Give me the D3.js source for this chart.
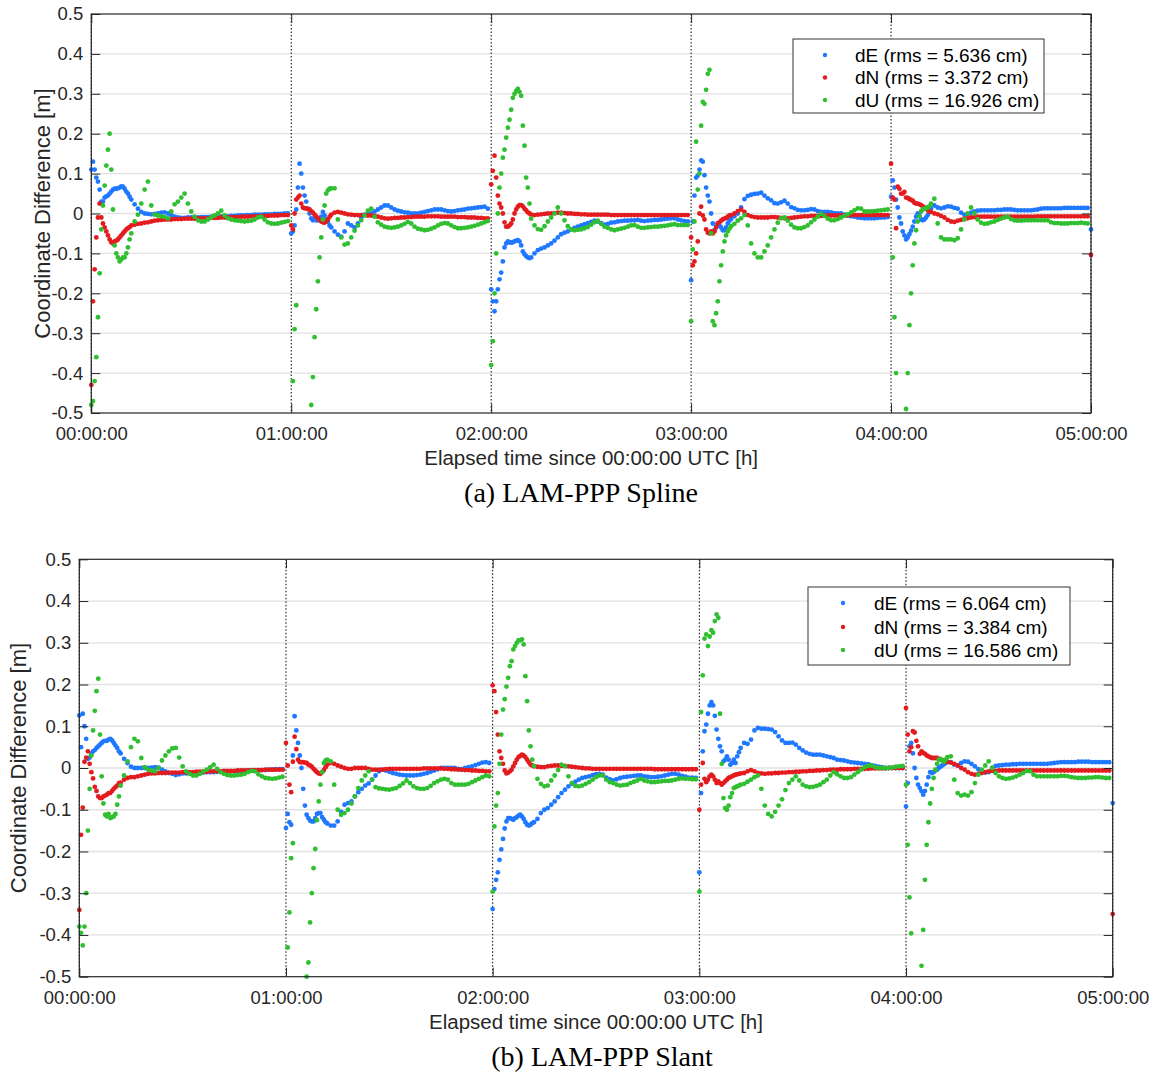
<!DOCTYPE html>
<html>
<head>
<meta charset="utf-8">
<script src="https://cdn.jsdelivr.net/npm/d3@7"></script>
<style>
	body {margin:0; background:#fff}
	text {font-family:"Liberation Sans", Arial, sans-serif}
</style>
</head>
<body>
<svg id="chart" width="1158" height="1076"></svg>
<script>
// Axis labels
var hourLabels = ['00:00:00', '01:00:00', '02:00:00', '03:00:00', '04:00:00', '05:00:00']
var yTicks = [-0.5, -0.4, -0.3, -0.2, -0.1, 0, 0.1, 0.2, 0.3, 0.4, 0.5]
var seriesNames = ['dE', 'dN', 'dU']
var seriesColors = ['#1f78ff', '#e31b1f', '#30bf30']

// rms per component [cm]
var splineRms = [5.636, 3.372, 16.926]
var slantRms = [6.064, 3.384, 16.586]

// Coordinate differences [cm], one row per hour.
// head = first 12 min of the hour every 30 s, tail = min 12..59 every 1 min
var splineE_head = [
	[11,13,11,9,8,6,3,3,4,4.3,4.5,5,5.5,6,6.2,6.2,6.3,6.5,6.8,6.7,6.2,5.5,5,4.2],
	[-5,-4.5,-3,1,6.5,12.5,10,6.5,4.5,3,1.2,0,-1.2,-1.7,-1.3,-1.7,-1.7,-1.5,-0.8,0.4,-0.5,-1.5,-2,-3],
	[-19,-22,-24.5,-22,-19,-16.5,-14.8,-12,-8.5,-7.5,-7,-7.2,-7.3,-7.2,-7,-6.8,-6.7,-7,-8,-9.5,-10.2,-10.7,-11,-11.2],
	[-16.7,-2,4.5,9,9.5,11,13.3,13,9.6,6.5,4.5,3,0,-2.5,-4.2,-3.3,-2.5,-3,-3.5,-4.2,-4.2,-3.5,-2.5,-1.8],
	[4.2,8.3,6.5,3.5,1.5,-1,-2.5,-4.5,-5.5,-6.5,-6,-5.2,-4.3,-3.3,-2,-0.8,0,-0.5,-1.5,-1.7,-1.5,-1,-0.4,0.3]
]
var splineE_tail = [
	[3.5,2.3,1.2,0.4,0,-0.1,-0.2,-0.1,0,0.2,0.3,0,-0.4,-0.8,-1,-1.1,-1.1,-1,-1,-1,-1,-0.9,-0.9,-0.9,-0.8,-0.8,-0.8,-0.7,-0.7,-0.7,-0.6,-0.6,-0.5,-0.5,-0.5,-0.4,-0.4,-0.3,-0.3,-0.3,-0.2,-0.2,-0.2,-0.1,-0.1,-0.1,0,0],
	[-3.5,-4.5,-5.3,-5.8,-4.5,-2.5,-3,-3.5,-2.5,-1,-0.3,0,0,0.5,1,1.5,2,2,1.5,1,0.7,0.5,0.3,0.2,0,0,0,0.2,0.4,0.6,0.8,1,1,1,0.8,0.6,0.5,0.6,0.8,0.9,1,1.2,1.3,1.4,1.5,1.6,1.7,1.2],
	[-11,-10,-9.2,-8.8,-8.5,-8,-7.5,-6.8,-6,-5.2,-4.8,-4.5,-4,-3.6,-3.3,-3,-2.7,-2.4,-2.1,-1.8,-2,-2.4,-2.8,-2.6,-2.3,-2.2,-2,-1.9,-1.8,-1.8,-1.7,-1.7,-1.6,-1.8,-1.9,-1.8,-1.7,-1.6,-1.6,-1.5,-1.4,-1.3,-1.2,-1.2,-1.5,-1.7,-1.9,-2],
	[-1.4,-0.7,0,1.5,3.6,4.4,4.7,4.9,5,5.2,4.5,3.8,3.3,2.6,2.5,2.8,3.2,2.5,1.6,1.3,0.9,0.8,0.8,0.9,1.1,1,0.6,0.4,0.4,0.4,0.3,0.1,0,0,-0.3,-0.5,-0.7,-0.8,-1,-1.1,-1.2,-1.2,-1.2,-1.2,-1.1,-1,-1,-0.9],
	[1.2,2,1.5,1.3,1.5,1.8,1.7,1.4,1.2,0.2,-0.3,-0.2,0.2,0.5,0.7,0.8,0.8,0.8,0.8,0.8,0.9,0.9,1,1,1,0.9,0.8,0.8,0.8,0.8,0.8,0.9,1,1.2,1.3,1.3,1.3,1.3,1.3,1.3,1.4,1.4,1.4,1.4,1.4,1.4,1.4,1.4]
]
var splineN_head = [
	[-43,-22,-14,-6,-1,2.5,-1,-2.5,-3.5,-4.5,-5.5,-6.5,-7.2,-7.5,-7,-6.8,-6.5,-6,-5.5,-5,-4.5,-4,-3.7,-3.4],
	[-3,-4,0,3.5,4,4.5,2.5,1.5,1.3,1.3,1.1,1,0.6,0.2,-0.3,-0.7,-1.2,-1.6,-2,-2.2,-2.3,-2,-1.5,-0.8],
	[7.3,10.7,14.5,9,4.5,2.5,1.5,0,-2.2,-3.3,-3.3,-3,-2.5,-1.5,0,1,1.7,2.1,2.1,1.8,1.2,0.8,0.3,0],
	[-6,-13,-12,-10,-7,0,1.7,-0.5,-1.5,-4,-4.8,-5,-4.5,-5,-4.5,-3.5,-2.5,-2.2,-1.8,-1.5,-1.3,-1.1,-0.8,-0.5],
	[12.5,4,3.5,-3.7,6.7,6.2,5,5,5.4,4,3.9,3.6,3.4,3.2,2.7,2.5,2.5,2.3,2.1,1.8,1.5,1.2,0.8,0.5]
]
var splineN_tail = [
	[-3,-2.8,-2.6,-2.5,-2.3,-2.2,-2,-1.8,-1.7,-1.6,-1.5,-1.5,-1.5,-1.4,-1.4,-1.4,-1.3,-1.3,-1.3,-1.3,-1.2,-1.2,-1.2,-1.2,-1.1,-1.1,-1.1,-1,-1,-1,-0.9,-0.9,-0.9,-0.8,-0.8,-0.8,-0.7,-0.7,-0.7,-0.6,-0.6,-0.6,-0.5,-0.5,-0.5,-0.4,-0.4,-0.4],
	[-0.3,0.2,0.4,0.2,0,-0.2,-0.3,-0.4,-0.4,-0.4,-0.4,-0.5,-0.5,-0.6,-0.8,-1,-1.2,-1.3,-1.2,-1.1,-1.1,-1,-1,-0.9,-0.9,-0.8,-0.8,-0.8,-0.8,-0.7,-0.7,-0.7,-0.7,-0.8,-0.8,-0.8,-0.8,-0.8,-0.9,-0.9,-0.9,-1,-1,-1,-1.1,-1.1,-1.2,-1.2],
	[-0.3,-0.4,-0.3,-0.2,-0.1,0,0,0.1,0.2,0.2,0.1,0,0,-0.1,-0.1,-0.2,-0.2,-0.3,-0.3,-0.3,-0.3,-0.3,-0.3,-0.3,-0.4,-0.4,-0.4,-0.4,-0.4,-0.4,-0.4,-0.4,-0.4,-0.4,-0.4,-0.4,-0.4,-0.4,-0.4,-0.4,-0.4,-0.4,-0.4,-0.4,-0.4,-0.4,-0.4,-0.4],
	[-0.4,0,0.6,1,0.4,-0.4,-0.7,-0.9,-1,-1,-1,-1,-0.9,-0.9,-1,-1.1,-1.2,-1.2,-1.1,-1,-0.9,-0.8,-0.7,-0.7,-0.6,-0.6,-0.6,-0.6,-0.5,-0.5,-0.5,-0.5,-0.5,-0.5,-0.5,-0.5,-0.4,-0.4,-0.4,-0.4,-0.4,-0.4,-0.4,-0.4,-0.4,-0.4,-0.4,-0.4],
	[0.4,0,-0.2,-0.6,-1,-1.6,-2,-2.1,-1.8,-1.6,-1.3,-1.2,-1,-0.9,-0.8,-0.8,-0.8,-0.8,-0.8,-0.8,-0.8,-0.8,-0.8,-0.8,-0.8,-0.8,-0.8,-0.8,-0.8,-0.8,-0.8,-0.8,-0.7,-0.7,-0.7,-0.7,-0.7,-0.7,-0.7,-0.7,-0.7,-0.7,-0.7,-0.7,-0.7,-0.7,-0.7,-0.7]
]
var splineU_head = [
	[-48,-47,-42,-36,-26,-15,-4,2,7,12,16,20,11,1,-8,-10,-11,-12,-11.5,-11,-11,-10,-8.5,-6.5],
	[-55,-42,-29,-23,-55,-65,-70,-70,-65,-60,-55,-52,-48,-41,-31,-24,-17,-11,-6,-1.5,2,5,5.8,6.2],
	[-38,-32,-20,-10,0,6.5,10,14,16,19,21.5,23.5,26,29,30,30.7,31.2,30.5,29.5,22,17,9,6.5,2.5],
	[-27,-9,-2,18,6,10,22,28,27.5,31,35,36,-5,-27,-28,-25,-22,-17,-13,-9.5,-7,-5.5,-4.5,-3.8],
	[-60,-11,-26,-40,-62,-75,-78,-72,-62,-49,-40,-28,-20,-13,-7.5,-4.2,-2,-0.7,0.5,1,1.2,1.3,1.5,1.8]
]
var splineU_tail = [
	[-5,-2,-0.3,2.5,6,8,2,-0.3,-0.5,-0.7,-0.9,-1.2,0.5,2.3,3,4,5,2.5,0.5,-0.8,-1.7,-2,-2,-1.5,-1,-0.5,0,0.7,-0.5,-1.2,-1.5,-1.7,-1.8,-1.9,-2,-1.9,-1.8,-1.5,-1,-0.8,-1.5,-2.2,-2.5,-2.6,-2.5,-2.3,-2.1,-1.9],
	[6.3,6.3,-1.5,-6,-7.8,-7.5,-6,-4.3,-3,-1.7,-0.5,0.7,1.2,-0.8,-2.2,-2.8,-3.3,-3.5,-3.6,-3.5,-3.3,-3,-2.6,-2.1,-2.5,-3.3,-3.8,-4,-4.2,-4.1,-3.8,-3.5,-3,-2.6,-2.4,-2.5,-3,-3.4,-3.7,-3.7,-3.6,-3.5,-3.3,-3.1,-2.8,-2.5,-2.2,-1.9],
	[-1.3,-3,-3.9,-4.1,-3.2,-2,-1,0,1.5,0,-1.7,-3.2,-4,-4.2,-4.1,-4,-3.7,-3.4,-2.8,-2.2,-1.8,-2.6,-3.3,-3.6,-4,-4.2,-4,-3.8,-3.6,-3.3,-3,-2.9,-3.3,-3.6,-3.6,-3.5,-3.4,-3.3,-3.3,-3.2,-3.1,-3,-2.8,-2.7,-2.9,-2.9,-2.9,-2.9],
	[-3.2,-2.6,-1.8,-1.2,-0.4,-3,-7.5,-10,-11,-11,-9.5,-8,-6,-4,-2.3,-1.2,-1,-1.8,-2.8,-3.5,-3.7,-3.7,-3.4,-3,-2.2,-1.5,-0.8,-0.1,-0.6,-1.3,-1.7,-1.7,-1.4,-1,-0.6,-0.2,0.3,0.8,1.3,1.2,0.5,0.5,0.5,0.6,0.7,0.8,0.9,1],
	[2.5,3.7,-2.5,-6,-6.5,-6.5,-6.5,-6.7,-6.2,-4,-1.5,0,1.5,0,-1.5,-2.3,-2.6,-2.5,-2.2,-2,-1.6,-1.3,-1,-0.8,-1.4,-1.7,-1.8,-1.8,-1.7,-1.7,-1.7,-1.7,-1.7,-1.7,-1.7,-1.7,-2.2,-2.4,-2.4,-2.5,-2.5,-2.5,-2.4,-2.4,-2.4,-2.3,-2.4,-2.5]
]
// first epoch after the 05:00:00 reset (dE, dN)
var splineEnd = [-4, -10.4]

var slantE_head = [
	[12.6,5,13,10,7,2.2,2.5,3.4,4,4.3,4.8,5.2,5.6,6,6.4,6.5,6.5,6.8,7,6.6,6,5.4,4.8,4],
	[-14.4,-11,-13,-13.6,3,12.4,9,6,3,0,-5,-9,-11.2,-12,-12.6,-12.8,-12.8,-12,-11,-10.8,-10.8,-11.8,-12.4,-13],
	[-33.8,-29,-26.8,-25,-22,-19.5,-17,-14.5,-12.8,-12,-12,-12.2,-12.4,-12,-11.8,-11.4,-11.2,-11.6,-12.2,-13,-13.6,-13.8,-13.6,-13.2],
	[-25,-6,4,8.8,10.4,13,15,15.8,15,12.5,9.2,7,5.2,4,1.6,2,2.8,2,0.8,1.2,2,1.2,2.8,3.8],
	[-9.2,-3.6,5.2,6,3.5,0,-2.4,-4,-4.8,-5.6,-6.4,-5.5,-4,-2.2,-1,-1.2,-1,-0.6,-0.4,0,0.3,0.6,0.9,1.2]
]
var slantE_tail = [
	[3.5,2.2,1.2,0.3,0,0,0,0,0,0.1,0.2,0.1,-0.4,-0.8,-1.2,-1.4,-1.7,-1.5,-1.3,-1.3,-1.2,-1.2,-1.2,-1.1,-1.1,-1,-1,-1,-0.9,-0.9,-0.9,-0.8,-0.8,-0.8,-0.7,-0.7,-0.7,-0.6,-0.6,-0.6,-0.5,-0.5,-0.5,-0.4,-0.4,-0.3,-0.3,-0.3],
	[-13.3,-13.8,-13.8,-12.8,-10.5,-8.8,-8.4,-8,-6.8,-5.8,-5,-4.2,-3.7,-2.8,-1.8,-0.8,-0.4,-0.6,-0.9,-1.2,-1.4,-1.6,-1.7,-1.8,-1.8,-1.8,-1.7,-1.6,-1.4,-1.2,-0.9,-0.6,-0.3,0,0,0,0,0,-0.2,-0.3,0,0.2,0.4,0.7,1,1.3,1.4,1.2],
	[-13,-12.2,-10.8,-10,-9.6,-8.8,-8,-7,-6,-5.2,-4.4,-3.8,-3.3,-2.8,-2.4,-2.2,-2,-1.7,-1.5,-1.4,-1.6,-2.3,-2.7,-3,-2.7,-2.4,-2.2,-2.1,-2,-1.9,-1.8,-1.8,-2,-2.1,-2.2,-2.2,-2.1,-2,-1.8,-1.6,-1.4,-1.4,-1.6,-1.9,-2.1,-2.3,-2.3,-2.4],
	[4.8,6,5.8,6.8,9,9.6,9.4,9.4,9.3,9.2,8.6,7.6,6.6,6,6,6.1,5.6,4.8,4.2,3.7,3.4,3.2,3.2,3.2,3,2.8,2.6,2.4,2,1.9,1.8,1.6,1.4,1.3,1.2,1.1,1,0.9,0.7,0.5,0.3,0.2,0,0,0,0,0,0],
	[1.4,1.4,0.8,0.6,1.2,1.6,1.5,1,0.4,-0.3,-0.9,-1.1,-1,0,0.5,0.6,0.7,0.8,0.8,0.9,0.9,1,1,1,1,1,1,1,1,1,1.1,1.2,1.3,1.4,1.4,1.4,1.4,1.4,1.5,1.5,1.5,1.5,1.4,1.4,1.4,1.4,1.4,1.4]
]
var slantN_head = [
	[-34,-16,-9.5,1.5,2.5,4,1,-1,-2.5,-4.5,-5.5,-6.8,-7.2,-7.2,-6.8,-6.6,-6.4,-6,-6,-5.5,-5,-4.6,-4.2,-3.6],
	[6,0.6,-4,-5.8,1.5,7.5,4.5,2,1.4,1.4,1.4,1.3,1.2,0.8,0.6,0.3,-0.2,-0.6,-1,-1.3,-1.4,-1,-0.5,0.2],
	[19.8,18.4,13.4,8,4,2.4,1,-0.6,-1.3,-1.1,-0.8,-0.4,0.4,1.2,2,2.6,2.9,3.2,3,2.6,2,1.4,0.8,0.6],
	[-10,-4,1.2,-2.6,-3.4,-2.8,-2,-1.6,-2,-2.8,-3.6,-3.2,-3.6,-4,-3.6,-3.2,-2.8,-2.4,-2.2,-2,-1.8,-1.6,-1.5,-1.4],
	[14.4,8,4,5,8.8,8.5,6.5,5.2,3.4,4,3.6,3.4,3,2.8,2.6,2.4,2.4,2.4,2.4,2.2,2,1.9,1.8,1.6]
]
var slantN_tail = [
	[-3.5,-2.8,-2.4,-2.2,-2.2,-2,-1.8,-1.6,-1.4,-1.3,-1.3,-1.2,-1.2,-1.2,-1.1,-1.1,-1.1,-1.1,-1,-1,-1,-1,-0.9,-0.9,-0.9,-0.9,-0.8,-0.8,-0.8,-0.8,-0.7,-0.7,-0.7,-0.7,-0.6,-0.6,-0.6,-0.6,-0.5,-0.5,-0.5,-0.5,-0.4,-0.4,-0.4,-0.4,-0.4,-0.4],
	[0.8,1.2,1,0.6,0.3,0,-0.2,-0.2,0,0,0,0,-0.2,-0.4,-0.4,-0.4,-0.4,-0.3,-0.2,-0.2,-0.2,-0.2,-0.2,-0.2,-0.2,-0.2,-0.2,-0.2,-0.1,-0.1,-0.1,-0.1,-0.1,-0.1,-0.2,-0.2,-0.3,-0.3,-0.4,-0.4,-0.5,-0.5,-0.6,-0.6,-0.7,-0.7,-0.8,-0.8],
	[0.4,0.3,0.2,0.2,0.4,0.5,0.6,0.6,0.5,0.5,0.4,0.3,0.2,0.1,0,-0.1,-0.1,-0.2,-0.2,-0.2,-0.2,-0.2,-0.2,-0.2,-0.2,-0.2,-0.2,-0.2,-0.2,-0.2,-0.2,-0.2,-0.2,-0.2,-0.2,-0.3,-0.3,-0.3,-0.3,-0.3,-0.3,-0.3,-0.3,-0.3,-0.3,-0.3,-0.3,-0.3],
	[-1.3,-1.2,-0.8,-0.5,-0.8,-1.2,-1.3,-1.4,-1.3,-1.3,-1.2,-1.2,-1.1,-1.1,-1,-1,-0.9,-0.9,-0.8,-0.8,-0.7,-0.7,-0.6,-0.6,-0.5,-0.5,-0.4,-0.4,-0.4,-0.3,-0.3,-0.3,-0.3,-0.2,-0.2,-0.2,-0.2,-0.2,-0.1,-0.1,-0.1,-0.1,-0.1,0,0,0,0,0],
	[1.5,1.3,1,0.6,0,-0.4,-1,-1.4,-1.6,-1.4,-1.2,-1,-0.8,-0.7,-0.7,-0.6,-0.6,-0.6,-0.6,-0.6,-0.6,-0.6,-0.6,-0.6,-0.6,-0.6,-0.6,-0.6,-0.6,-0.6,-0.6,-0.6,-0.6,-0.6,-0.6,-0.6,-0.6,-0.6,-0.6,-0.6,-0.6,-0.6,-0.6,-0.6,-0.6,-0.6,-0.6,-0.6]
]
var slantU_head = [
	[-38,-39.5,-42.5,-38,-30,-15,-5,3,9,13.7,18.4,21.4,8,-2,-8.5,-11.2,-11.6,-11,-12,-11.8,-11.6,-11,-8.8,-6.8],
	[-60,-43,-34.6,-21.6,-18,-60,-70,-72,-70,-65,-60,-55,-50,-46.6,-37,-30,-24,-19.4,-12.5,-8,-4,-1,1.2,1.8],
	[-29.6,-14,-9,-6,1,8,14,16.5,19.5,21.6,24.4,25.6,28.4,29.2,30,30.6,30.6,30.8,29.6,22,16,9,5.2,2],
	[-29.6,13.4,22.2,31,32,29.2,31.5,33,32.4,35.2,36.8,36,13,1,-7.2,-9.6,-10,-9,-7,-6,-4.8,-4.6,-4.4,-4.2],
	[-4,-18.4,-31,-39.6,-60,-75,-75,-70,-62,-47.4,-38.8,-26.8,-18.4,-13,-8.5,-5,-2.4,-0.4,1,2,2.2,1.8,1.5,2]
]
var slantU_tail = [
	[-4.2,-1.8,1.6,5,7,6.4,2.4,0.2,-0.4,-0.6,-0.8,0,1.8,3,4,4.7,4.8,2.5,0.4,-0.8,-1.4,-1.8,-1.8,-1.4,-0.8,-0.4,0.2,0.8,-0.2,-1,-1.4,-1.7,-1.8,-1.8,-1.7,-1.6,-1.4,-1,-0.7,-0.8,-1.5,-2,-2.4,-2.5,-2.6,-2.5,-2.3,-2.1],
	[2,1.6,-4,-10,-11.2,-10.8,-10,-8.5,-6.8,-4.8,-3,-1.8,-0.8,-2.8,-4.6,-4.9,-5,-5.1,-5.2,-5,-4.8,-4.3,-3.7,-3,-3.6,-4.4,-4.8,-5,-5,-4.8,-4.3,-3.6,-3.2,-2.8,-2.6,-2.8,-3.6,-4,-4,-4,-4,-3.8,-3.4,-3,-2.6,-2.2,-1.8,-2],
	[0.5,-2.6,-3.8,-4.4,-4.2,-3,-1.8,-0.5,0.8,0.4,-2,-3.6,-4.3,-4.4,-4.2,-3.8,-3.4,-2.8,-2.2,-1.8,-1.8,-2.8,-3.4,-3.6,-4,-4.2,-4.1,-4,-3.6,-3.3,-3,-2.6,-3,-3.2,-3.4,-3.4,-3.3,-3.2,-3.1,-3.1,-3,-2.8,-2.6,-2.5,-2.6,-2.6,-2.7,-2.7],
	[-4,-3.8,-3.3,-2.8,-2.2,-1.8,-5,-9,-11,-11.6,-10.5,-9,-7.5,-5.3,-3.6,-2.8,-2,-3,-4,-4.4,-4.6,-4.5,-4.3,-4,-3.4,-2.8,-1.8,-1,-1.5,-2,-2.4,-2.4,-2.2,-1.6,-1,-0.4,0.2,0.5,0.6,0.2,0,0,0,0,0.1,0.3,0.4,0.5],
	[2.6,2.8,-2.8,-6,-6.6,-6.4,-6.6,-5.8,-3.6,-1.6,-0.4,0.6,1.6,0,-1.2,-2,-2.4,-2.6,-2.5,-2.3,-2,-1.6,-1.2,-0.7,-0.8,-1.6,-2,-2,-2,-2,-2,-2,-2,-1.9,-1.9,-2,-2.2,-2.3,-2.4,-2.4,-2.4,-2.3,-2.3,-2.2,-2.2,-2.3,-2.4,-2.4]
]
var slantEnd = [-8.4, -35]

// Panel layout
var panels = [
	{caption:'(a) LAM-PPP Spline', rms:splineRms, end:splineEnd,
	 head:[splineE_head, splineN_head, splineU_head], tail:[splineE_tail, splineN_tail, splineU_tail],
	 left:91.3, right:1091, top:14, bottom:413, ylabX:42, xlabY:465, capX:581, capY:502,
	 legend:{x:793, y:39, w:251, h:74, dotX:825, textX:855, rows:[55, 77.5, 100]}},
	{caption:'(b) LAM-PPP Slant', rms:slantRms, end:slantEnd,
	 head:[slantE_head, slantN_head, slantU_head], tail:[slantE_tail, slantN_tail, slantU_tail],
	 left:79.3, right:1112.7, top:559.3, bottom:976.7, ylabX:18, xlabY:1029, capX:602, capY:1066,
	 legend:{x:808, y:587, w:262, h:78, dotX:843, textX:874, rows:[603, 627, 650]}}
]

// Turn head/tail rows into [minutes, metres] points
var buildPoints = function(head, tail, endVal) {
	var pts = []
	for(var h=0; h<head.length; h++) {
		head[h].forEach(function(v, i) { pts.push({t:h*60 + i*0.5, v:v/100}) })
		tail[h].forEach(function(v, j) { pts.push({t:h*60 + 12 + j, v:v/100}) })
	}
	if(endVal != undefined) pts.push({t:300, v:endVal/100})
	return pts
}

var fmtY = function(v) { return v == 0 ? '0' : String(v) }
var ink = '#262626'

var drawPanel = function(svg, p) {
	var x = d3.scaleLinear().domain([0, 300]).range([p.left, p.right])
	var y = d3.scaleLinear().domain([-0.5, 0.5]).range([p.bottom, p.top])
	var hours = d3.range(0, 301, 60)
	var g = svg.append('g')

	// grid
	g.append('g').selectAll('line').data(yTicks.slice(1, -1)).join('line')
		.attr('x1', p.left).attr('x2', p.right)
		.attr('y1', function(d) { return y(d) }).attr('y2', function(d) { return y(d) })
		.attr('stroke', '#e2e2e2').attr('stroke-width', 1.3)

	// hour separators
	g.append('g').selectAll('line').data(hours).join('line')
		.attr('x1', function(d) { return x(d) }).attr('x2', function(d) { return x(d) })
		.attr('y1', p.top).attr('y2', p.bottom)
		.attr('stroke', '#000').attr('stroke-width', 1).attr('stroke-dasharray', '1.5,2')

	// series
	seriesNames.map(function(name, k) {
		var pts = buildPoints(p.head[k], p.tail[k], p.end[k]).filter(function(d) { return d.v >= -0.5 && d.v <= 0.5 })
		g.append('g').attr('class', 'series-' + name).selectAll('circle').data(pts).join('circle')
			.attr('cx', function(d) { return x(d.t) })
			.attr('cy', function(d) { return y(d.v) })
			.attr('r', 2.4)
			.attr('fill', seriesColors[k])
	})

	// axes
	g.append('g').attr('transform', 'translate(' + p.left + ',0)')
		.call(d3.axisLeft(y).tickValues(yTicks).tickSize(-9).tickSizeOuter(0).tickPadding(8).tickFormat(fmtY))
	g.append('g').attr('transform', 'translate(' + p.right + ',0)')
		.call(d3.axisRight(y).tickValues(yTicks).tickSize(-9).tickSizeOuter(0).tickFormat(''))
	g.append('g').attr('transform', 'translate(0,' + p.bottom + ')')
		.call(d3.axisBottom(x).tickValues(hours).tickSize(-9).tickSizeOuter(0).tickPadding(14)
			.tickFormat(function(d) { return hourLabels[d/60] }))
	g.append('g').attr('transform', 'translate(0,' + p.top + ')')
		.call(d3.axisTop(x).tickValues(hours).tickSize(-9).tickSizeOuter(0).tickFormat(''))
	g.selectAll('.domain').remove()
	g.selectAll('.tick line').attr('stroke', ink)
	g.selectAll('.tick text').attr('font-size', 18.5).attr('fill', ink).attr('font-family', '"Liberation Sans", Arial, sans-serif')

	g.append('rect').attr('x', p.left).attr('y', p.top)
		.attr('width', p.right - p.left).attr('height', p.bottom - p.top)
		.attr('fill', 'none').attr('stroke', ink).attr('stroke-width', 1.2)

	// titles
	g.append('text').attr('transform', 'translate(' + p.ylabX + ',' + (p.top + p.bottom)/2 + ') rotate(-90)')
		.attr('text-anchor', 'middle').attr('dy', '0.35em').attr('font-size', 22).attr('fill', ink)
		.text('Coordinate Difference [m]')
	g.append('text').attr('x', (p.left + p.right)/2).attr('y', p.xlabY)
		.attr('text-anchor', 'middle').attr('font-size', 20.5).attr('fill', ink)
		.text('Elapsed time since 00:00:00 UTC [h]')
	g.append('text').attr('x', p.capX).attr('y', p.capY)
		.attr('text-anchor', 'middle').attr('font-size', 28).attr('fill', '#000')
		.style('font-family', '"Liberation Serif", "DejaVu Serif", serif')
		.text(p.caption)

	// legend
	var L = p.legend
	var lg = g.append('g')
	lg.append('rect').attr('x', L.x).attr('y', L.y).attr('width', L.w).attr('height', L.h)
		.attr('fill', '#fff').attr('stroke', '#333').attr('stroke-width', 1)
	seriesNames.map(function(name, k) {
		lg.append('circle').attr('cx', L.dotX).attr('cy', L.rows[k]).attr('r', 2.2).attr('fill', seriesColors[k])
		lg.append('text').attr('x', L.textX).attr('y', L.rows[k]).attr('dy', '0.36em')
			.attr('font-size', 19).attr('fill', '#000')
			.text(name + ' (rms = ' + p.rms[k].toFixed(3) + ' cm)')
	})
}

var svg = d3.select('#chart')
panels.map(function(p) { drawPanel(svg, p) })
</script>
</body>
</html>
